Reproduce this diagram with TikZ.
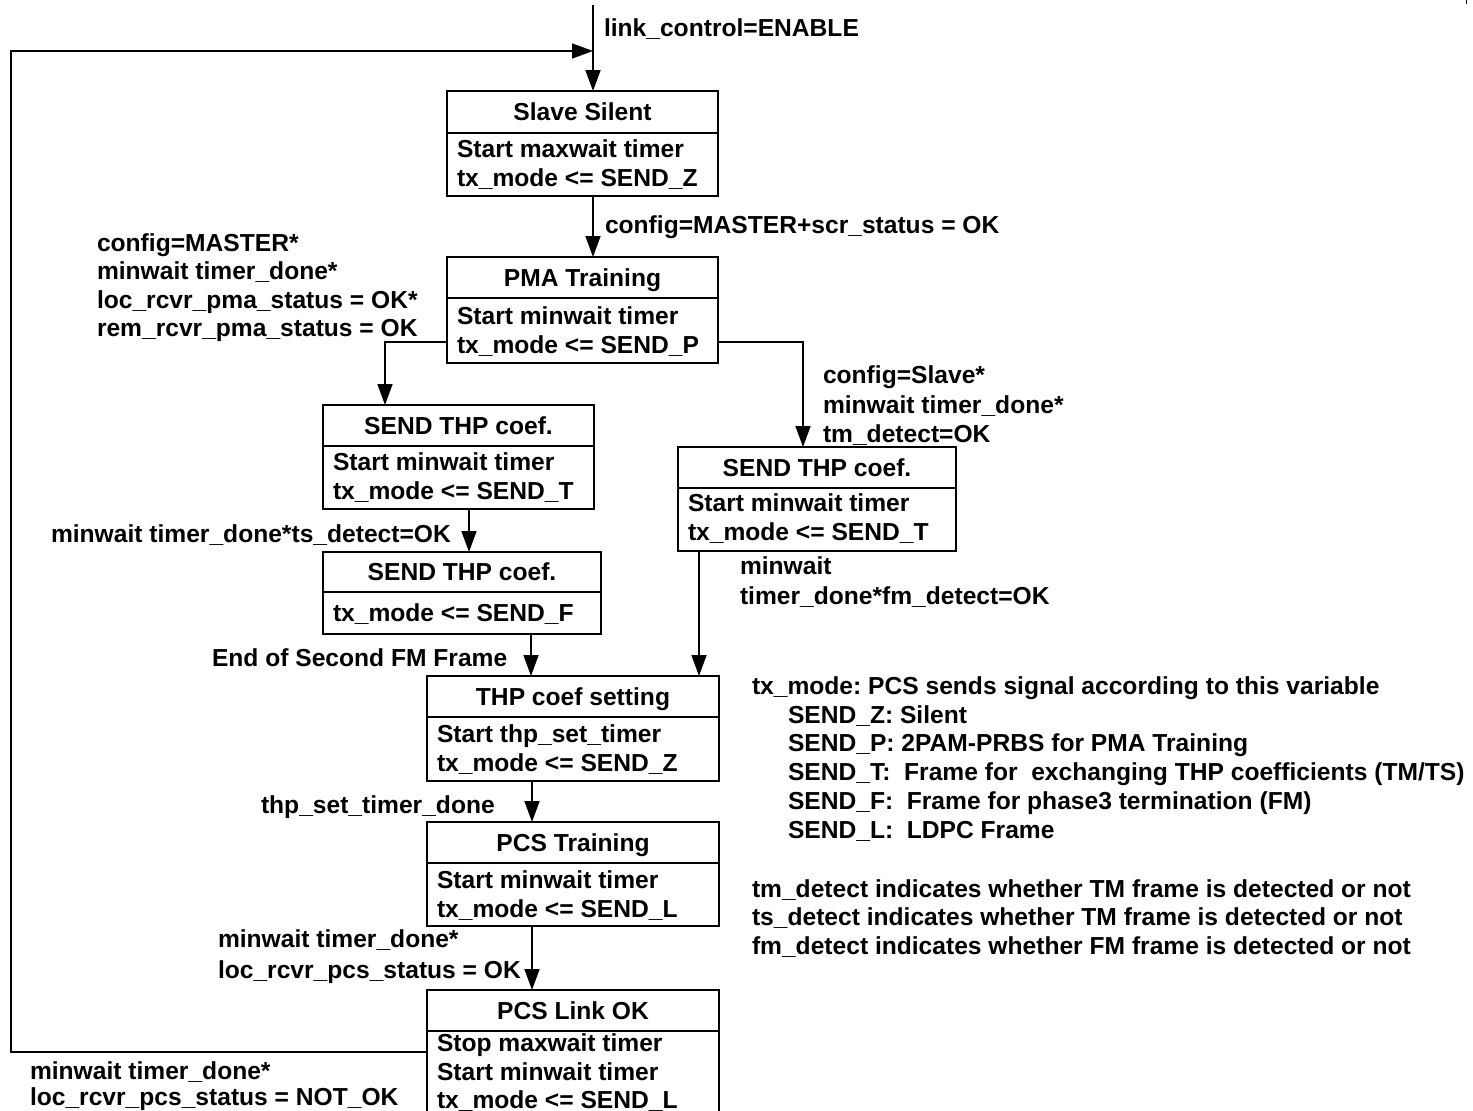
\documentclass[tikz,border=0pt]{standalone}
\usepackage{fontspec}
\setmainfont{Liberation Sans}
\usetikzlibrary{arrows.meta}
\frenchspacing

% state box: name, left, top, right, bottom, divider y, title, first body line y, body lines
\newcommand\stbox[9]{%
  \node[stbox, minimum width={#4-#2}, minimum height={#5-#3}] (#1) at (#2,#3) {};
  \draw[boxline] (#2,#6) -- (#4,#6);
  \node[titletxt] (#1-t) at ({(#2+#4)/2},{(#3+#6)/2+8.7}) {#7};
  \foreach \txt [count=\i] in {#9}
    \node[plaintxt] (#1-\i) at ({#2+10},{#8+8.7+28.5*(\i-1)}) {\txt};
}

\begin{document}
\begin{tikzpicture}[x=1pt,y=-1pt,
  every node/.style={font=\fontsize{24.6}{29}\selectfont\bfseries, inner sep=0pt, outer sep=0pt},
  boxline/.style={line width=1.2pt},
  stbox/.style={draw, line width=1.2pt, anchor=north west, inner sep=0pt, outer sep=0pt},
  titletxt/.style={anchor=base},
  plaintxt/.style={anchor=base west},
  arr/.style={line width=1.6pt, -{Triangle[length=21pt,width=15pt]}},
  wire/.style={line width=1.6pt}]
\useasboundingbox (0,0) rectangle (1473,1111);
\clip (0,0) rectangle (1473,1111);

% states
\stbox{ss}{447}{91}{718}{196}{133}{Slave Silent}{149}{Start maxwait timer,tx\_mode <= SEND\_Z}
\stbox{pma}{447}{257}{718}{363}{298}{PMA Training}{316}{Start minwait timer,tx\_mode <= SEND\_P}
\stbox{sta}{323}{405}{594}{509}{446}{SEND THP coef.}{462}{Start minwait timer,tx\_mode <= SEND\_T}
\stbox{stb}{323}{552}{601}{634}{592}{SEND THP coef.}{613}{tx\_mode <= SEND\_F}
\stbox{stc}{678}{447}{956}{551}{488}{SEND THP coef.}{503}{Start minwait timer,tx\_mode <= SEND\_T}
\stbox{thp}{427}{676}{719}{781}{717}{THP coef setting}{734}{Start thp\_set\_timer,tx\_mode <= SEND\_Z}
\stbox{pcs}{427}{822}{719}{926}{863}{PCS Training}{880}{Start minwait timer,tx\_mode <= SEND\_L}
\stbox{lnk}{427}{990}{719}{1120}{1031}{PCS Link OK}{1043}{Stop maxwait timer,Start minwait timer,tx\_mode <= SEND\_L}

% connector end points
\coordinate (entry) at (593,5);
\coordinate (join) at (593,51);
\coordinate (back) at (427,1052);
\coordinate (corner) at (11,1052);
\coordinate (cornertop) at (11,51);
\coordinate (pmaL) at (447,342);
\coordinate (pmaR) at (718,342);

% transitions
\draw[arr] (entry) -- (entry |- ss.north);
\draw[arr] (back) -- (corner) -- (cornertop) -- (join);
\draw[arr] (ss.south -| entry) -- (pma.north -| entry);
\draw[arr] (pmaL) -| ([xshift=62pt]sta.north west);
\draw[arr] (pmaR) -| ([xshift=125pt]stc.north west);
\draw[arr] ([xshift=146pt]sta.south west) -- ([xshift=146pt]stb.north west);
\draw[arr] ([xshift=208pt]stb.south west) -- ([xshift=104pt]thp.north west);
\draw[arr] ([xshift=21pt]stc.south west) -- ([xshift=272pt]thp.north west);
\draw[arr] ([xshift=105pt]thp.south west) -- ([xshift=105pt]pcs.north west);
\draw[arr] ([xshift=105pt]pcs.south west) -- ([xshift=105pt]lnk.north west);
\draw[line width=1pt] (1466,0) -- (1466,4);

% transition conditions
\node[plaintxt] (c0) at (604,36) {link\_control=ENABLE};
\node[plaintxt] (c1) at (605,233) {config=MASTER+scr\_status = OK};
\node[plaintxt] (c2a) at (97,251) {config=MASTER*};
\node[plaintxt] (c2b) at (97,279.5) {minwait timer\_done*};
\node[plaintxt] (c2c) at (97,308) {loc\_rcvr\_pma\_status = OK*};
\node[plaintxt] (c2d) at (97,336.5) {rem\_rcvr\_pma\_status = OK};
\node[plaintxt] (c3a) at (823,383) {config=Slave*};
\node[plaintxt] (c3b) at (823,413) {minwait timer\_done*};
\node[plaintxt] (c3c) at (823,442) {tm\_detect=OK};
\node[plaintxt] (c4) at (51,542) {minwait timer\_done*ts\_detect=OK};
\node[plaintxt] (c5a) at (740,574) {minwait};
\node[plaintxt] (c5b) at (740,604) {timer\_done*fm\_detect=OK};
\node[plaintxt] (c6) at (212,666) {End of Second FM Frame};
\node[plaintxt] (c7) at (261,813) {thp\_set\_timer\_done};
\node[plaintxt] (c8a) at (218,947) {minwait timer\_done*};
\node[plaintxt] (c8b) at (218,978) {loc\_rcvr\_pcs\_status = OK};
\node[plaintxt] (c9a) at (30,1079) {minwait timer\_done*};
\node[plaintxt] (c9b) at (30,1105) {loc\_rcvr\_pcs\_status = NOT\_OK};

% legend
\node[plaintxt] (g0) at (752,694) {tx\_mode: PCS sends signal according to this variable};
\node[plaintxt] (g1) at (788,723) {SEND\_Z: Silent};
\node[plaintxt] (g2) at (788,751.5) {SEND\_P: 2PAM-PRBS for PMA Training};
\node[plaintxt] (g3) at (788,780) {SEND\_T:\ \ Frame for\ \ exchanging THP coefficients (TM/TS)};
\node[plaintxt] (g4) at (788,809) {SEND\_F:\ \ Frame for phase3 termination (FM)};
\node[plaintxt] (g5) at (788,838) {SEND\_L:\ \ LDPC Frame};
\node[plaintxt] (g6) at (752,897) {tm\_detect indicates whether TM frame is detected or not};
\node[plaintxt] (g7) at (752,925) {ts\_detect indicates whether TM frame is detected or not};
\node[plaintxt] (g8) at (752,954) {fm\_detect indicates whether FM frame is detected or not};
\end{tikzpicture}
\end{document}
